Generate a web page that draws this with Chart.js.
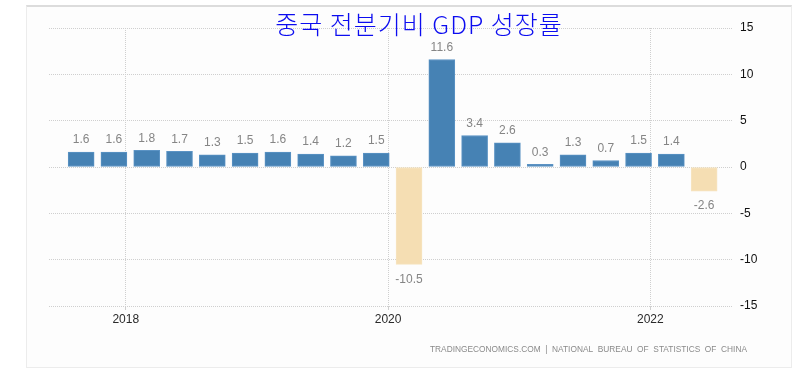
<!DOCTYPE html>
<html>
<head>
<meta charset="utf-8">
<script src="https://cdn.jsdelivr.net/npm/chart.js@4.4.1/dist/chart.umd.min.js"></script>
<style>
    html, body { margin: 0; padding: 0; background: #fff; }
    #wrap { position: relative; width: 795px; height: 373px; overflow: hidden; }
    #panel {
        position: absolute; left: 26px; top: 5px; width: 764px; height: 360px;
        background: #fdfdfd; border: 1px solid #ececec; border-top: 2px solid #dcdcdc;
    }
    #growthChart { position: absolute; left: 0; top: 0; }
</style>
</head>
<body>
<div id="wrap">
    <div id="panel"></div>
    <canvas id="growthChart" width="795" height="373"></canvas>
</div>
<script>
// China GDP growth, quarter on quarter (%)
const quarters = ['2017Q3', '2017Q4', '2018Q1', '2018Q2', '2018Q3', '2018Q4',
    '2019Q1', '2019Q2', '2019Q3', '2019Q4', '2020Q1', '2020Q2', '2020Q3', '2020Q4',
    '2021Q1', '2021Q2', '2021Q3', '2021Q4', '2022Q1', '2022Q2'];
const growth = [1.6, 1.6, 1.8, 1.7, 1.3, 1.5, 1.6, 1.4, 1.2, 1.5,
    -10.5, 11.6, 3.4, 2.6, 0.3, 1.3, 0.7, 1.5, 1.4, -2.6];
const yearTicks = [2018, 2020, 2022];
const yTicks = [-15, -10, -5, 0, 5, 10, 15];

const titleText = '중국 전분기비 GDP 성장률';
const sourceText = 'TRADINGECONOMICS.COM  |  NATIONAL  BUREAU  OF  STATISTICS  OF  CHINA';

// quarter label -> decimal year (bar sits near the end of the quarter's second month)
function quarterPos(q) {
    const year = parseInt(q.slice(0, 4));
    const n = parseInt(q.slice(5));
    return year + (n - 1) / 4 + 0.16;
}

const points = quarters.map((q, i) => ({ x: quarterPos(q), y: growth[i] }));

// value labels over / under each bar
const valueLabels = {
    id: 'valueLabels',
    afterDatasetsDraw(chart) {
        const ctx = chart.ctx;
        const meta = chart.getDatasetMeta(0);
        ctx.save();
        ctx.font = '12px "Liberation Sans", Arial, sans-serif';
        ctx.fillStyle = '#858585';
        ctx.textAlign = 'center';
        ctx.textBaseline = 'middle';
        meta.data.forEach((bar, i) => {
            const v = growth[i];
            const y = v >= 0 ? bar.y - 12 : bar.y + 15;
            ctx.fillText(v.toFixed(1), bar.x, y);
        });
        ctx.restore();
    }
};

// title and source line
const decorations = {
    id: 'decorations',
    afterDraw(chart) {
        const ctx = chart.ctx;
        ctx.save();
        ctx.font = '300 25px "Noto Sans CJK KR", sans-serif';
        ctx.letterSpacing = '1px';
        ctx.fillStyle = '#0c0cf0';
        ctx.textAlign = 'center';
        ctx.textBaseline = 'middle';
        ctx.fillText(titleText, 419, 24);
        ctx.letterSpacing = '0px';

        ctx.font = '9px "Liberation Sans", Arial, sans-serif';
        ctx.fillStyle = '#8a8a8a';
        ctx.textAlign = 'left';
        ctx.textBaseline = 'middle';
        const w = ctx.measureText(sourceText).width;
        ctx.translate(430, 350);
        ctx.scale(317 / w, 1);
        ctx.fillText(sourceText, 0, 0);
        ctx.restore();
    }
};

new Chart(document.getElementById('growthChart'), {
    type: 'bar',
    data: {
        datasets: [{
            data: points,
            backgroundColor: growth.map(v => v >= 0 ? '#4682b4' : '#f5deb3'),
            borderColor: growth.map(v => v >= 0 ? '#5b93c4' : '#f7e4c0'),
            borderWidth: 1,
            borderSkipped: false,
            barThickness: 26
        }]
    },
    options: {
        responsive: false,
        animation: false,
        layout: { padding: { left: 49, top: 28, right: 0, bottom: 0 } },
        plugins: {
            legend: { display: false },
            tooltip: { enabled: false }
        },
        scales: {
            x: {
                type: 'linear',
                offset: false,
                min: 2017.415,
                max: 2022.63,
                afterBuildTicks: scale => { scale.ticks = yearTicks.map(v => ({ value: v })); },
                afterFit: scale => { scale.height = 67; },
                grid: { offset: false, color: '#cfcfcf', tickLength: 4, tickColor: '#cfcfcf' },
                border: { display: false, dash: [1, 1] },
                ticks: {
                    padding: 2,
                    color: '#2a2a2a',
                    font: { family: '"Liberation Sans", Arial, sans-serif', size: 12 },
                    callback: v => String(v)
                }
            },
            y: {
                position: 'right',
                min: -15,
                max: 15,
                afterBuildTicks: scale => { scale.ticks = yTicks.map(v => ({ value: v })); },
                afterFit: scale => { scale.width = 62; },
                grid: { color: '#cfcfcf', drawTicks: false },
                border: { display: false, dash: [1, 1] },
                ticks: {
                    padding: 7,
                    color: '#111',
                    font: { family: '"Liberation Sans", Arial, sans-serif', size: 12 }
                }
            }
        }
    },
    plugins: [valueLabels, decorations]
});
</script>
</body>
</html>
